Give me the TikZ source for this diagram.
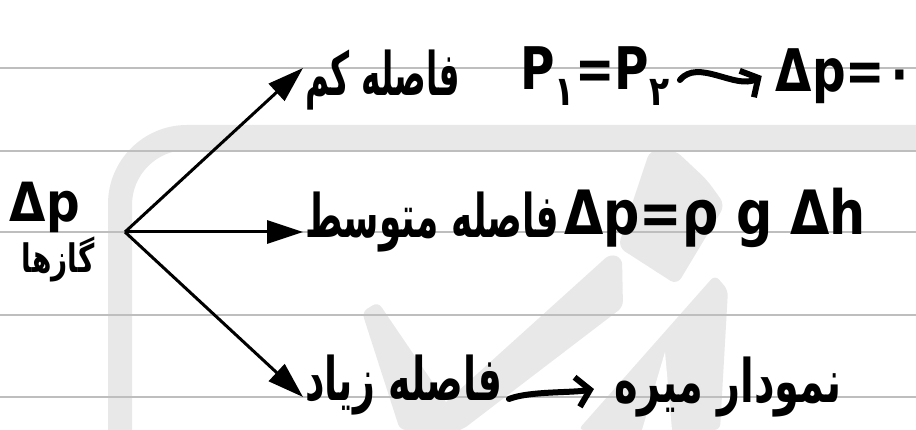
\documentclass[tikz,border=0pt]{standalone}
\usepackage{fontspec}
\usepackage{graphicx}
\setmainfont{DejaVu Sans}
\newfontfamily\fa[Script=Arabic]{DejaVu Sans}
\TeXXeTstate=1
\usetikzlibrary{arrows.meta}
\definecolor{wm}{HTML}{E8E8E8}
\definecolor{ruleclr}{HTML}{BEBEBE}
\begin{document}
\begin{tikzpicture}[x=1pt,y=-1pt,
  ruleline/.style={draw=ruleclr,line width=1.8pt},
  wmark/.style={fill=wm,draw=none},
  fatext/.style={font=\fa\bfseries\fontsize{40}{44}\selectfont,inner sep=2pt},
  eqtext/.style={font=\bfseries\fontsize{47}{50}\selectfont,inner sep=2pt},
  arr/.style={line width=3pt,-{Triangle[length=36pt,width=23pt]}},
  squig/.style={line width=6pt,line cap=round,-{Straight Barb[length=13pt,width=30pt,line width=6pt]}}
]
\useasboundingbox (0,0) rectangle (916,430);
\fill[white] (0,0) rectangle (916,430);
% watermark
\fill[wmark] (916,125) -- (187,125) arc[start angle=270,end angle=180,radius=79]
  -- (108,430) -- (132,430) -- (132,205) arc[start angle=180,end angle=270,radius=55]
  -- (916,150) -- cycle;
\fill[wmark,rounded corners=8pt] (650,150) -- (675,150) -- (707,180) -- (725,205) -- (677,285) -- (618,247) -- (635,195) -- cycle;
\fill[wmark,rounded corners=6pt] (610,254) -- (622,258) -- (623,307) -- (462,430) -- (415,430) -- cycle;
\fill[wmark,rounded corners=6pt] (362,312) -- (378,302) -- (465,430) -- (400,430) -- cycle;
\fill[wmark,rounded corners=6pt] (715,275) -- (728,290) -- (720,430) -- (578,430) -- cycle;
\fill[white] (665,352) -- (672,430) -- (642,430) -- cycle;
% ruled lines
\foreach \yy in {68,151,232,315,397} \draw[ruleline] (0,\yy) -- (916,\yy);
% left
\node[eqtext,inner sep=0pt] (dp) at (45,207) {\scalebox{1}[1.15]{Δp}};
\node[fatext,inner sep=0pt,font=\fa\bfseries\fontsize{28}{30}\selectfont] (gas) at (58,259) {\scalebox{1}[1.4]{\beginR گازها\endR}};
\coordinate (src) at (125,232);
% top row
\node[fatext,anchor=west] (near) at (303,80) {\scalebox{0.82}[1.5]{\beginR فاصله کم\endR}};
\node[eqtext] (p12) at (595,76) {\scalebox{1}[1.25]{P\textsubscript{\fa ۱}=P\textsubscript{\fa ۲}}};
\node[eqtext] (dp0) at (845,76) {\scalebox{1}[1.25]{Δp={\fa ۰}}};
\draw[squig] ([xshift=8pt,yshift=-4pt]p12.east) .. controls +(18,-22) and +(-26,14) .. ([xshift=-12pt]dp0.west);
% middle row
\node[fatext,anchor=west] (mid) at (303,222) {\scalebox{0.9}[1.5]{\beginR فاصله متوسط\endR}};
\node[eqtext,anchor=west] (hyd) at ([yshift=4pt]mid.east) {\scalebox{1.08}[1.3]{Δp=ρ g Δh}};
% bottom row
\node[fatext,anchor=west] (far) at (303,385) {\scalebox{0.95}[1.5]{\beginR فاصله زیاد\endR}};
\node[fatext] (graph) at (728,387) {\scalebox{1}[1.5]{\beginR نمودار میره\endR}};
\draw[squig] ([xshift=4pt,yshift=-14pt]far.east) .. controls +(20,-8) and +(-22,4) .. ([xshift=-18pt,yshift=-2pt]graph.west);
% main arrows
\draw[arr] (src) -- ([yshift=12pt]near.west);
\draw[arr] (src) -- ([yshift=-10pt]mid.west);
\draw[arr] (src) -- ([yshift=-12pt]far.west);
\end{tikzpicture}
\end{document}
